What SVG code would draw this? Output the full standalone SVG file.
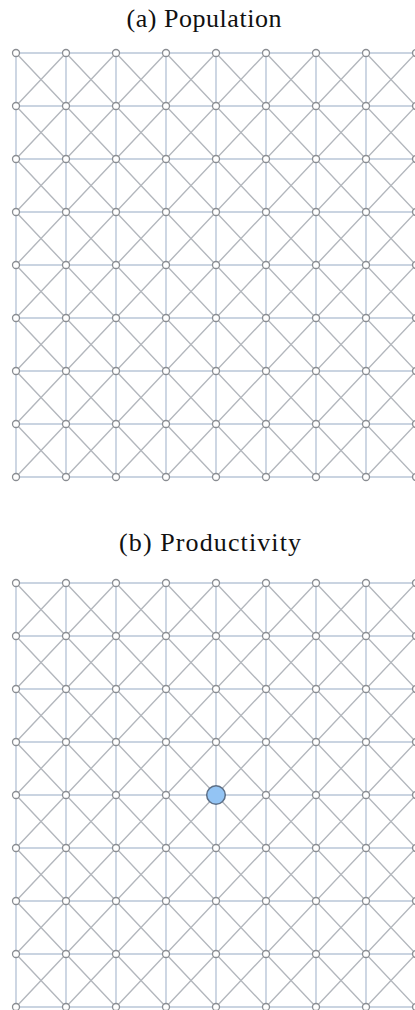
<svg xmlns="http://www.w3.org/2000/svg" xmlns:xlink="http://www.w3.org/1999/xlink" width="415" height="1010" viewBox="0 0 415 1010">
<style>
.t{font-family:"Liberation Serif","Times New Roman",serif;font-size:26px;fill:#111}
.hv{fill:none;stroke:#b9c6d8;stroke-width:1.4}
.dg{fill:none;stroke:#b3b7bd;stroke-width:1.4}
.n circle{fill:#fff;stroke:#8a8d92;stroke-width:1.3}
.n circle.hot{fill:#93c4f4;stroke:#5d6f86;stroke-width:1.5}
</style>
<defs>
<path id="hvp" d="M16 53H416M16 106H416M16 159H416M16 212H416M16 265H416M16 318H416M16 371H416M16 424H416M16 477H416M16 53V477M66 53V477M116 53V477M166 53V477M216 53V477M266 53V477M316 53V477M366 53V477M416 53V477"/>
<path id="dgp" d="M16 53L416 477M66 53L416 424M116 53L416 371M166 53L416 318M216 53L416 265M266 53L416 212M316 53L416 159M366 53L416 106M16 106L366 477M16 159L316 477M16 212L266 477M16 265L216 477M16 318L166 477M16 371L116 477M16 424L66 477M66 53L16 106M116 53L16 159M166 53L16 212M216 53L16 265M266 53L16 318M316 53L16 371M366 53L16 424M416 53L16 477M416 106L66 477M416 159L116 477M416 212L166 477M416 265L216 477M416 318L266 477M416 371L316 477M416 424L366 477"/>
</defs>
<text class="t" x="204" y="27" text-anchor="middle" textLength="155" lengthAdjust="spacing">(a) Population</text>
<text class="t" x="210" y="551" text-anchor="middle" textLength="182" lengthAdjust="spacing">(b) Productivity</text>
<g id="connectors">
<g id="edges-a"><use xlink:href="#hvp" class="hv"/><use xlink:href="#dgp" class="dg"/></g>
<g id="edges-b" transform="translate(0,530)"><use xlink:href="#hvp" class="hv"/><use xlink:href="#dgp" class="dg"/></g>
</g>
<g id="nodes-a" class="n">
<g id="a0-0"><circle cx="16" cy="53" r="3.5"/></g><g id="a0-1"><circle cx="66" cy="53" r="3.5"/></g><g id="a0-2"><circle cx="116" cy="53" r="3.5"/></g><g id="a0-3"><circle cx="166" cy="53" r="3.5"/></g><g id="a0-4"><circle cx="216" cy="53" r="3.5"/></g><g id="a0-5"><circle cx="266" cy="53" r="3.5"/></g><g id="a0-6"><circle cx="316" cy="53" r="3.5"/></g><g id="a0-7"><circle cx="366" cy="53" r="3.5"/></g><g id="a0-8"><circle cx="416" cy="53" r="3.5"/></g>
<g id="a1-0"><circle cx="16" cy="106" r="3.5"/></g><g id="a1-1"><circle cx="66" cy="106" r="3.5"/></g><g id="a1-2"><circle cx="116" cy="106" r="3.5"/></g><g id="a1-3"><circle cx="166" cy="106" r="3.5"/></g><g id="a1-4"><circle cx="216" cy="106" r="3.5"/></g><g id="a1-5"><circle cx="266" cy="106" r="3.5"/></g><g id="a1-6"><circle cx="316" cy="106" r="3.5"/></g><g id="a1-7"><circle cx="366" cy="106" r="3.5"/></g><g id="a1-8"><circle cx="416" cy="106" r="3.5"/></g>
<g id="a2-0"><circle cx="16" cy="159" r="3.5"/></g><g id="a2-1"><circle cx="66" cy="159" r="3.5"/></g><g id="a2-2"><circle cx="116" cy="159" r="3.5"/></g><g id="a2-3"><circle cx="166" cy="159" r="3.5"/></g><g id="a2-4"><circle cx="216" cy="159" r="3.5"/></g><g id="a2-5"><circle cx="266" cy="159" r="3.5"/></g><g id="a2-6"><circle cx="316" cy="159" r="3.5"/></g><g id="a2-7"><circle cx="366" cy="159" r="3.5"/></g><g id="a2-8"><circle cx="416" cy="159" r="3.5"/></g>
<g id="a3-0"><circle cx="16" cy="212" r="3.5"/></g><g id="a3-1"><circle cx="66" cy="212" r="3.5"/></g><g id="a3-2"><circle cx="116" cy="212" r="3.5"/></g><g id="a3-3"><circle cx="166" cy="212" r="3.5"/></g><g id="a3-4"><circle cx="216" cy="212" r="3.5"/></g><g id="a3-5"><circle cx="266" cy="212" r="3.5"/></g><g id="a3-6"><circle cx="316" cy="212" r="3.5"/></g><g id="a3-7"><circle cx="366" cy="212" r="3.5"/></g><g id="a3-8"><circle cx="416" cy="212" r="3.5"/></g>
<g id="a4-0"><circle cx="16" cy="265" r="3.5"/></g><g id="a4-1"><circle cx="66" cy="265" r="3.5"/></g><g id="a4-2"><circle cx="116" cy="265" r="3.5"/></g><g id="a4-3"><circle cx="166" cy="265" r="3.5"/></g><g id="a4-4"><circle cx="216" cy="265" r="3.5"/></g><g id="a4-5"><circle cx="266" cy="265" r="3.5"/></g><g id="a4-6"><circle cx="316" cy="265" r="3.5"/></g><g id="a4-7"><circle cx="366" cy="265" r="3.5"/></g><g id="a4-8"><circle cx="416" cy="265" r="3.5"/></g>
<g id="a5-0"><circle cx="16" cy="318" r="3.5"/></g><g id="a5-1"><circle cx="66" cy="318" r="3.5"/></g><g id="a5-2"><circle cx="116" cy="318" r="3.5"/></g><g id="a5-3"><circle cx="166" cy="318" r="3.5"/></g><g id="a5-4"><circle cx="216" cy="318" r="3.5"/></g><g id="a5-5"><circle cx="266" cy="318" r="3.5"/></g><g id="a5-6"><circle cx="316" cy="318" r="3.5"/></g><g id="a5-7"><circle cx="366" cy="318" r="3.5"/></g><g id="a5-8"><circle cx="416" cy="318" r="3.5"/></g>
<g id="a6-0"><circle cx="16" cy="371" r="3.5"/></g><g id="a6-1"><circle cx="66" cy="371" r="3.5"/></g><g id="a6-2"><circle cx="116" cy="371" r="3.5"/></g><g id="a6-3"><circle cx="166" cy="371" r="3.5"/></g><g id="a6-4"><circle cx="216" cy="371" r="3.5"/></g><g id="a6-5"><circle cx="266" cy="371" r="3.5"/></g><g id="a6-6"><circle cx="316" cy="371" r="3.5"/></g><g id="a6-7"><circle cx="366" cy="371" r="3.5"/></g><g id="a6-8"><circle cx="416" cy="371" r="3.5"/></g>
<g id="a7-0"><circle cx="16" cy="424" r="3.5"/></g><g id="a7-1"><circle cx="66" cy="424" r="3.5"/></g><g id="a7-2"><circle cx="116" cy="424" r="3.5"/></g><g id="a7-3"><circle cx="166" cy="424" r="3.5"/></g><g id="a7-4"><circle cx="216" cy="424" r="3.5"/></g><g id="a7-5"><circle cx="266" cy="424" r="3.5"/></g><g id="a7-6"><circle cx="316" cy="424" r="3.5"/></g><g id="a7-7"><circle cx="366" cy="424" r="3.5"/></g><g id="a7-8"><circle cx="416" cy="424" r="3.5"/></g>
<g id="a8-0"><circle cx="16" cy="477" r="3.5"/></g><g id="a8-1"><circle cx="66" cy="477" r="3.5"/></g><g id="a8-2"><circle cx="116" cy="477" r="3.5"/></g><g id="a8-3"><circle cx="166" cy="477" r="3.5"/></g><g id="a8-4"><circle cx="216" cy="477" r="3.5"/></g><g id="a8-5"><circle cx="266" cy="477" r="3.5"/></g><g id="a8-6"><circle cx="316" cy="477" r="3.5"/></g><g id="a8-7"><circle cx="366" cy="477" r="3.5"/></g><g id="a8-8"><circle cx="416" cy="477" r="3.5"/></g>
</g>
<g id="nodes-b" class="n">
<g id="b0-0"><circle cx="16" cy="583" r="3.5"/></g><g id="b0-1"><circle cx="66" cy="583" r="3.5"/></g><g id="b0-2"><circle cx="116" cy="583" r="3.5"/></g><g id="b0-3"><circle cx="166" cy="583" r="3.5"/></g><g id="b0-4"><circle cx="216" cy="583" r="3.5"/></g><g id="b0-5"><circle cx="266" cy="583" r="3.5"/></g><g id="b0-6"><circle cx="316" cy="583" r="3.5"/></g><g id="b0-7"><circle cx="366" cy="583" r="3.5"/></g><g id="b0-8"><circle cx="416" cy="583" r="3.5"/></g>
<g id="b1-0"><circle cx="16" cy="636" r="3.5"/></g><g id="b1-1"><circle cx="66" cy="636" r="3.5"/></g><g id="b1-2"><circle cx="116" cy="636" r="3.5"/></g><g id="b1-3"><circle cx="166" cy="636" r="3.5"/></g><g id="b1-4"><circle cx="216" cy="636" r="3.5"/></g><g id="b1-5"><circle cx="266" cy="636" r="3.5"/></g><g id="b1-6"><circle cx="316" cy="636" r="3.5"/></g><g id="b1-7"><circle cx="366" cy="636" r="3.5"/></g><g id="b1-8"><circle cx="416" cy="636" r="3.5"/></g>
<g id="b2-0"><circle cx="16" cy="689" r="3.5"/></g><g id="b2-1"><circle cx="66" cy="689" r="3.5"/></g><g id="b2-2"><circle cx="116" cy="689" r="3.5"/></g><g id="b2-3"><circle cx="166" cy="689" r="3.5"/></g><g id="b2-4"><circle cx="216" cy="689" r="3.5"/></g><g id="b2-5"><circle cx="266" cy="689" r="3.5"/></g><g id="b2-6"><circle cx="316" cy="689" r="3.5"/></g><g id="b2-7"><circle cx="366" cy="689" r="3.5"/></g><g id="b2-8"><circle cx="416" cy="689" r="3.5"/></g>
<g id="b3-0"><circle cx="16" cy="742" r="3.5"/></g><g id="b3-1"><circle cx="66" cy="742" r="3.5"/></g><g id="b3-2"><circle cx="116" cy="742" r="3.5"/></g><g id="b3-3"><circle cx="166" cy="742" r="3.5"/></g><g id="b3-4"><circle cx="216" cy="742" r="3.5"/></g><g id="b3-5"><circle cx="266" cy="742" r="3.5"/></g><g id="b3-6"><circle cx="316" cy="742" r="3.5"/></g><g id="b3-7"><circle cx="366" cy="742" r="3.5"/></g><g id="b3-8"><circle cx="416" cy="742" r="3.5"/></g>
<g id="b4-0"><circle cx="16" cy="795" r="3.5"/></g><g id="b4-1"><circle cx="66" cy="795" r="3.5"/></g><g id="b4-2"><circle cx="116" cy="795" r="3.5"/></g><g id="b4-3"><circle cx="166" cy="795" r="3.5"/></g><g id="b4-4"><circle class="hot" cx="216" cy="795" r="9.3"/></g><g id="b4-5"><circle cx="266" cy="795" r="3.5"/></g><g id="b4-6"><circle cx="316" cy="795" r="3.5"/></g><g id="b4-7"><circle cx="366" cy="795" r="3.5"/></g><g id="b4-8"><circle cx="416" cy="795" r="3.5"/></g>
<g id="b5-0"><circle cx="16" cy="848" r="3.5"/></g><g id="b5-1"><circle cx="66" cy="848" r="3.5"/></g><g id="b5-2"><circle cx="116" cy="848" r="3.5"/></g><g id="b5-3"><circle cx="166" cy="848" r="3.5"/></g><g id="b5-4"><circle cx="216" cy="848" r="3.5"/></g><g id="b5-5"><circle cx="266" cy="848" r="3.5"/></g><g id="b5-6"><circle cx="316" cy="848" r="3.5"/></g><g id="b5-7"><circle cx="366" cy="848" r="3.5"/></g><g id="b5-8"><circle cx="416" cy="848" r="3.5"/></g>
<g id="b6-0"><circle cx="16" cy="901" r="3.5"/></g><g id="b6-1"><circle cx="66" cy="901" r="3.5"/></g><g id="b6-2"><circle cx="116" cy="901" r="3.5"/></g><g id="b6-3"><circle cx="166" cy="901" r="3.5"/></g><g id="b6-4"><circle cx="216" cy="901" r="3.5"/></g><g id="b6-5"><circle cx="266" cy="901" r="3.5"/></g><g id="b6-6"><circle cx="316" cy="901" r="3.5"/></g><g id="b6-7"><circle cx="366" cy="901" r="3.5"/></g><g id="b6-8"><circle cx="416" cy="901" r="3.5"/></g>
<g id="b7-0"><circle cx="16" cy="954" r="3.5"/></g><g id="b7-1"><circle cx="66" cy="954" r="3.5"/></g><g id="b7-2"><circle cx="116" cy="954" r="3.5"/></g><g id="b7-3"><circle cx="166" cy="954" r="3.5"/></g><g id="b7-4"><circle cx="216" cy="954" r="3.5"/></g><g id="b7-5"><circle cx="266" cy="954" r="3.5"/></g><g id="b7-6"><circle cx="316" cy="954" r="3.5"/></g><g id="b7-7"><circle cx="366" cy="954" r="3.5"/></g><g id="b7-8"><circle cx="416" cy="954" r="3.5"/></g>
<g id="b8-0"><circle cx="16" cy="1007" r="3.5"/></g><g id="b8-1"><circle cx="66" cy="1007" r="3.5"/></g><g id="b8-2"><circle cx="116" cy="1007" r="3.5"/></g><g id="b8-3"><circle cx="166" cy="1007" r="3.5"/></g><g id="b8-4"><circle cx="216" cy="1007" r="3.5"/></g><g id="b8-5"><circle cx="266" cy="1007" r="3.5"/></g><g id="b8-6"><circle cx="316" cy="1007" r="3.5"/></g><g id="b8-7"><circle cx="366" cy="1007" r="3.5"/></g><g id="b8-8"><circle cx="416" cy="1007" r="3.5"/></g>
</g>
</svg>
